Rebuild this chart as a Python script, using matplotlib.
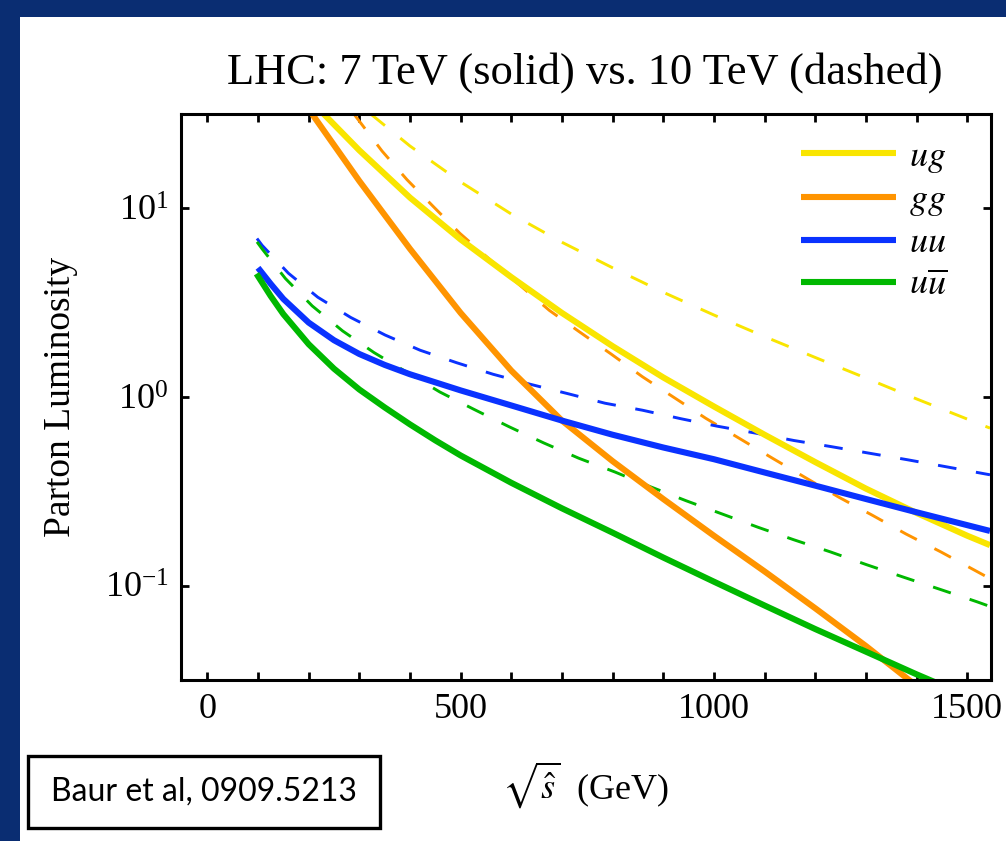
import matplotlib
matplotlib.use("Agg")
import matplotlib.pyplot as plt
from matplotlib.patches import Rectangle
from matplotlib.ticker import MultipleLocator, FixedLocator, NullLocator

plt.rcParams["font.family"] = ["Liberation Serif", "DejaVu Serif"]
plt.rcParams["mathtext.fontset"] = "stix"

# 7 TeV (solid) curves
ug_7_x = [223, 300, 400, 500, 600, 700, 800, 900, 1000, 1100, 1200, 1300, 1400, 1500, 1545]
ug_7_y = [33.0, 20.3, 11.4, 6.84, 4.32, 2.79, 1.86, 1.27, 0.891, 0.631, 0.452, 0.327, 0.243, 0.184, 0.164]
gg_7_x = [203, 300, 400, 500, 600, 700, 800, 900, 1000, 1100, 1200, 1300, 1390]
gg_7_y = [32.7, 13.96, 6.10, 2.79, 1.38, 0.75, 0.457, 0.288, 0.184, 0.119, 0.0759, 0.0479, 0.0309]
uu_7_x = [100, 125, 150, 200, 250, 300, 350, 400, 500, 600, 700, 800, 900, 1000, 1100, 1200, 1300, 1400, 1545]
uu_7_y = [4.84, 3.98, 3.31, 2.48, 2.0, 1.69, 1.48, 1.32, 1.084, 0.902, 0.75, 0.631, 0.54, 0.468, 0.398, 0.339, 0.288, 0.245, 0.195]
uub_7_x = [97, 125, 150, 200, 250, 300, 350, 400, 450, 500, 600, 700, 800, 900, 1000, 1100, 1200, 1300, 1400, 1440]
uub_7_y = [4.5, 3.43, 2.75, 1.905, 1.413, 1.096, 0.881, 0.716, 0.589, 0.490, 0.351, 0.257, 0.191, 0.141, 0.105, 0.0785, 0.0589, 0.0447, 0.0339, 0.0305]

# 10 TeV (dashed) curves
ug_10_x = [322, 400, 500, 600, 700, 800, 900, 1000, 1100, 1200, 1300, 1400, 1545]
ug_10_y = [31.7, 21.4, 13.8, 9.33, 6.61, 4.84, 3.59, 2.72, 2.09, 1.62, 1.26, 0.977, 0.684]
gg_10_x = [289, 345, 394, 447, 499, 557, 675, 734, 797, 859, 922, 984, 1050, 1116, 1182, 1247, 1313, 1379, 1448, 1514, 1545]
gg_10_y = [31.7, 20.1, 14.2, 10.16, 7.35, 5.37, 2.88, 2.22, 1.69, 1.28, 0.991, 0.771, 0.604, 0.473, 0.372, 0.294, 0.236, 0.188, 0.151, 0.121, 0.109]
uu_10_x = [98, 108, 160, 218, 283, 351, 420, 492, 564, 638, 712, 785, 859, 935, 1007, 1083, 1158, 1231, 1306, 1382, 1456, 1529, 1545]
uu_10_y = [6.92, 6.37, 4.53, 3.38, 2.64, 2.13, 1.77, 1.52, 1.32, 1.167, 1.041, 0.927, 0.851, 0.767, 0.700, 0.643, 0.588, 0.546, 0.504, 0.465, 0.428, 0.394, 0.387]
uub_10_x = [98, 108, 154, 207, 267, 329, 459, 526, 595, 664, 733, 805, 874, 945, 1016, 1087, 1158, 1230, 1302, 1374, 1447, 1519, 1545]
uub_10_y = [6.64, 6.10, 4.25, 3.04, 2.24, 1.72, 1.063, 0.861, 0.697, 0.571, 0.474, 0.400, 0.335, 0.282, 0.240, 0.204, 0.175, 0.151, 0.129, 0.111, 0.0955, 0.0822, 0.0776]

labels = ["$ug$", "$gg$", "$uu$", r"$u\overline{u}$"]
colors = ["#F9E500", "#FF9400", "#0A32FF", "#00B800"]

solid = [(ug_7_x, ug_7_y), (gg_7_x, gg_7_y), (uu_7_x, uu_7_y), (uub_7_x, uub_7_y)]
dashed = [(ug_10_x, ug_10_y), (gg_10_x, gg_10_y), (uu_10_x, uu_10_y), (uub_10_x, uub_10_y)]

W, H = 1006, 841
fig = plt.figure(figsize=(W / 100, H / 100), dpi=100, facecolor="#0A2D72")
fig.patches.append(Rectangle((20 / W, 0), 1, 1 - 17 / H, transform=fig.transFigure,
                             facecolor="white", edgecolor="none", zorder=-5))

ax = fig.add_axes([181 / W, (H - 680) / H, 810 / W, 566 / H])

for (x, y), c in zip(dashed, colors):
    ax.plot(x, y, color=c, lw=2.1, linestyle=(0, (6.4, 6.8)), solid_capstyle="butt")
for (x, y), c, lab in zip(solid, colors, labels):
    ax.plot(x, y, color=c, lw=4.4, label=lab, solid_capstyle="butt")

ax.set_yscale("log")
ax.set_xlim(-52, 1547)
ax.set_ylim(10 ** -1.5, 10 ** 1.5)

ax.xaxis.set_major_locator(MultipleLocator(500))
ax.xaxis.set_minor_locator(MultipleLocator(100))
ax.yaxis.set_major_locator(FixedLocator([0.1, 1, 10]))
ax.yaxis.set_minor_locator(NullLocator())
ax.tick_params(which="both", direction="in", top=True, right=True,
               length=6, width=2, labelsize=26, pad=9)
for s in ax.spines.values():
    s.set_linewidth(2.2)

ax.set_ylabel("Parton Luminosity", fontsize=27)
ax.yaxis.set_label_coords(-0.127, 0.5)
ax.set_xlabel(r"$\sqrt{\hat{s}}$  (GeV)", fontsize=26)
ax.xaxis.set_label_coords(0.5, -0.14)

fig.text(585 / W, 1 - 84 / H, "LHC: 7 TeV (solid) vs. 10 TeV (dashed)",
         ha="center", va="baseline", fontsize=32)

leg = ax.legend(loc="upper left", bbox_to_anchor=(0.765, 0.953), frameon=False,
                fontsize=26, handlelength=2.65, handletextpad=0.35,
                labelspacing=0.25, borderpad=0, borderaxespad=0)
for h in leg.get_lines():
    h.set_linewidth(4.4)

fig.patches.append(Rectangle((28 / W, (H - 828) / H), 352 / W, 72 / H,
                             transform=fig.transFigure, facecolor="white",
                             edgecolor="black", lw=2.4, zorder=2))
fig.text(204 / W, 1 - 792 / H, "Baur et al, 0909.5213", ha="center", va="center",
         fontsize=23, family=["Lato", "DejaVu Sans"], zorder=3)

fig.savefig("out.png", dpi=100, facecolor=fig.get_facecolor())
